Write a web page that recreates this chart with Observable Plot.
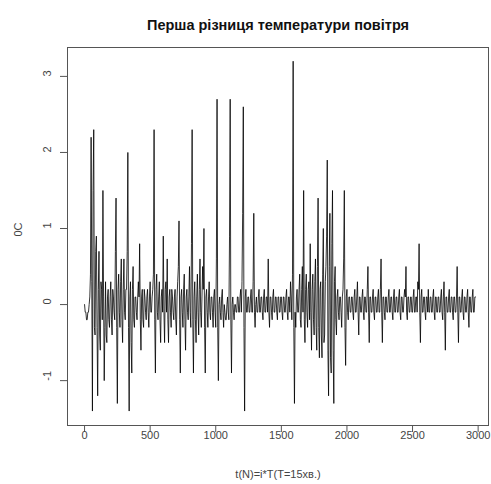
<!DOCTYPE html>
<html>
<head>
<meta charset="utf-8">
<script src="https://cdn.jsdelivr.net/npm/d3@7"></script>
<script src="https://cdn.jsdelivr.net/npm/@observablehq/plot@0.6"></script>
<style>
  html, body { margin: 0; padding: 0; background: #fff; }
  #chart svg { font-family: "Liberation Sans", Arial, sans-serif; color: #333; background: #fff; }
</style>
</head>
<body>
<div id="chart"></div>
<script>
// Chart text
const title = "Перша різниця температури повітря";
const xTitle = "t(N)=i*T(T=15хв.)";
const yTitle = "0C";

// Tick values
const xTicks = [0, 500, 1000, 1500, 2000, 2500, 3000];
const yTicks = [-1, 0, 1, 2, 3];

const step = 5;

// First difference of air temperature, °C (one value per step; 20 values per 100 steps)
const dT = [
  0, -.1, -.1, -.2, -.2, -.1, -.1, 0, .1, .4, 2.2, .3, -1.4, 1.5, 2.3, -.3, -.4, .7, .9, -.3,
  -1.2, .2, .7, -.4, -.6, .3, .2, -.2, 1.5, .1, -1.0, -.3, .3, -.4, -.5, .1, .2, -.2, -.3, .1,
  .3, -.2, -.4, .2, .1, -.1, -.2, .7, 1.4, -.3, -1.3, .2, .4, -.1, -.3, .3, .6, -.2, -.5, .2,
  .6, -.1, -.2, .2, .2, .7, 2.0, -.3, -1.4, .1, .3, -.5, -.9, .2, .5, -.2, -.3, .1, .1, -.1,
  -.2, .1, .3, .1, .8, -.2, -.6, .1, .2, -.2, -.3, .2, .1, -.1, -.2, .1, .2, -.1, -.3, .1,
  .3, -.1, -.1, .1, .2, .4, 2.3, -.2, -.9, .2, .4, -.1, -.2, .1, .3, -.2, -.5, .1, .2, -.1,
  .9, -.1, -.5, .2, .3, -.1, .6, -.2, -.5, .1, .2, -.1, -.3, .2, .1, -.1, -.2, .1, .2, -.2,
  -.4, .1, .3, .5, 1.1, -.2, -.9, .1, .2, -.1, -.3, .2, .4, -.2, -.6, .1, .2, -.1, -.2, .1,
  .5, -.1, -.3, .8, 2.3, -.2, -.9, .1, .3, -.2, -.5, .1, .4, -.1, -.4, .2, .6, -.1, -.3, .1,
  .5, .2, 1.0, -.3, -.9, .1, .2, -.1, -.3, .1, .3, -.1, -.2, .1, .1, -.1, -.3, .1, .2, -.1,
  -.3, .6, 2.7, -.3, -1.0, 0, .1, -.1, -.2, .1, .2, -.1, -.3, 0, -.1, -.2, -.2, 0, .1, -.1,
  -.2, .9, 2.7, -.2, -.9, 0, .1, -.1, -.2, 0, 0, -.1, -.1, .1, .1, -.1, -.1, .1, .2, -.1,
  .3, 1.2, 2.6, -.3, -1.4, .1, .2, -.1, -.1, .1, .1, -.1, -.1, .1, .2, -.1, -.1, .3, 1.2, -.1,
  -.3, 0, .1, -.1, -.1, .1, .2, -.1, -.1, .1, .1, -.1, -.2, .1, .2, -.1, -.1, .1, .1, -.1,
  .6, -.1, -.3, .1, .1, -.1, -.2, .1, .2, -.1, -.1, .1, .1, -.1, -.2, .1, .1, -.1, -.1, .1,
  .1, -.1, -.2, .1, .1, -.1, -.1, .1, .2, -.1, -.2, .1, .1, -.1, .3, .1, -.2, .4, 3.2, -.3,
  -1.3, -.1, -.3, .1, .2, -.1, -.1, .2, .4, -.2, -.3, .2, .5, -.1, 1.5, -.2, -.5, .2, .4, -.1,
  -.3, .2, .3, -.2, .8, -.1, -.6, .2, .4, -.2, -.4, .3, .6, -.3, -.6, .5, 1.4, -.3, -.7, .2,
  .3, -.4, -.7, .4, 1.0, -.5, -.4, .3, .5, .9, 1.9, -.6, -1.2, .5, 1.2, -.7, -.9, .8, 1.5, -.6,
  -1.3, .3, .5, -.2, -.4, .1, .2, -.1, -.2, .1, .1, -.1, -.3, .1, .2, .6, 1.5, -.3, -.8, .1,
  .2, -.1, -.2, .1, .1, -.1, -.1, .1, .1, -.1, -.2, .1, .2, -.1, -.1, .1, .3, -.1, -.4, .1,
  .1, -.1, -.1, .1, .2, -.1, -.2, .1, .1, -.1, -.1, .2, .5, -.1, -.5, .1, .1, -.1, -.1, .1,
  .2, -.1, -.2, .1, .1, -.1, -.1, .1, .2, -.1, -.1, .2, .6, -.1, -.5, .1, .1, -.1, -.2, .1,
  .1, -.1, -.1, .1, .2, -.1, -.1, .1, .1, -.1, -.2, .1, .2, -.1, -.1, .1, .1, -.1, -.1, .1,
  .2, -.1, -.2, .1, .1, -.1, -.1, .1, .2, .1, .5, -.1, -.2, .1, .1, -.1, -.1, .1, .1, -.1,
  -.1, .1, .2, -.1, -.1, .1, .1, -.1, .3, .2, .8, -.1, -.5, .1, .2, -.1, -.1, .1, .1, -.1,
  -.2, .1, .1, -.1, .2, -.1, -.1, .1, .1, -.1, -.1, .1, .2, -.1, -.2, .1, .1, -.1, -.1, .1,
  .1, -.1, -.1, .1, .2, -.1, -.2, .1, .3, -.1, -.6, .1, .1, -.1, -.1, .1, .2, -.1, -.1, .1,
  .1, -.1, -.2, .1, .1, -.1, -.1, .1, .5, -.1, -.5, .1, .1, -.1, -.1, .1, .2, -.1, -.2, .1,
  .1, -.1, -.1, .1, .2, -.1, -.3, .1, .1, -.1, -.1, .1, .2, -.1, -.1, .1, .1
];

const series = dT.map((v, i) => ({t: i * step, v}));

const chart = Plot.plot({
  width: 491,
  height: 484,
  marginTop: 47,
  marginBottom: 59,
  marginLeft: 67,
  marginRight: 3,
  style: {fontSize: "11px", overflow: "visible"},
  x: {domain: [-130, 3079]},
  y: {domain: [-1.59, 3.38]},
  marks: [
    Plot.line(series, {x: "t", y: "v", stroke: "#000", strokeWidth: 0.8}),
    Plot.frame({stroke: "#555"}),
    Plot.axisX({ticks: xTicks, tickSize: 7, tickFormat: () => "", label: null, stroke: "#555"}),
    Plot.axisY({ticks: yTicks, tickSize: 7, tickFormat: () => "", label: null, stroke: "#555"}),
    Plot.text(xTicks, {x: d => d, frameAnchor: "bottom", dy: 13, text: d => String(d), fontSize: 11, fill: "#444"}),
    Plot.text(yTicks, {y: d => d, frameAnchor: "left", dx: -20, rotate: -90, text: d => String(d), fontSize: 11, fill: "#444"}),
    Plot.text([title], {frameAnchor: "top", dy: -28, text: d => d, fontSize: 14.5, fontWeight: "bold", fill: "#111"}),
    Plot.text([xTitle], {frameAnchor: "bottom", dy: 52, text: d => d, fontSize: 11, fill: "#444"}),
    Plot.text([yTitle], {frameAnchor: "left", dx: -49, rotate: -90, text: d => d, fontSize: 11, fill: "#444"})
  ]
});

document.getElementById("chart").appendChild(chart);
</script>
</body>
</html>
